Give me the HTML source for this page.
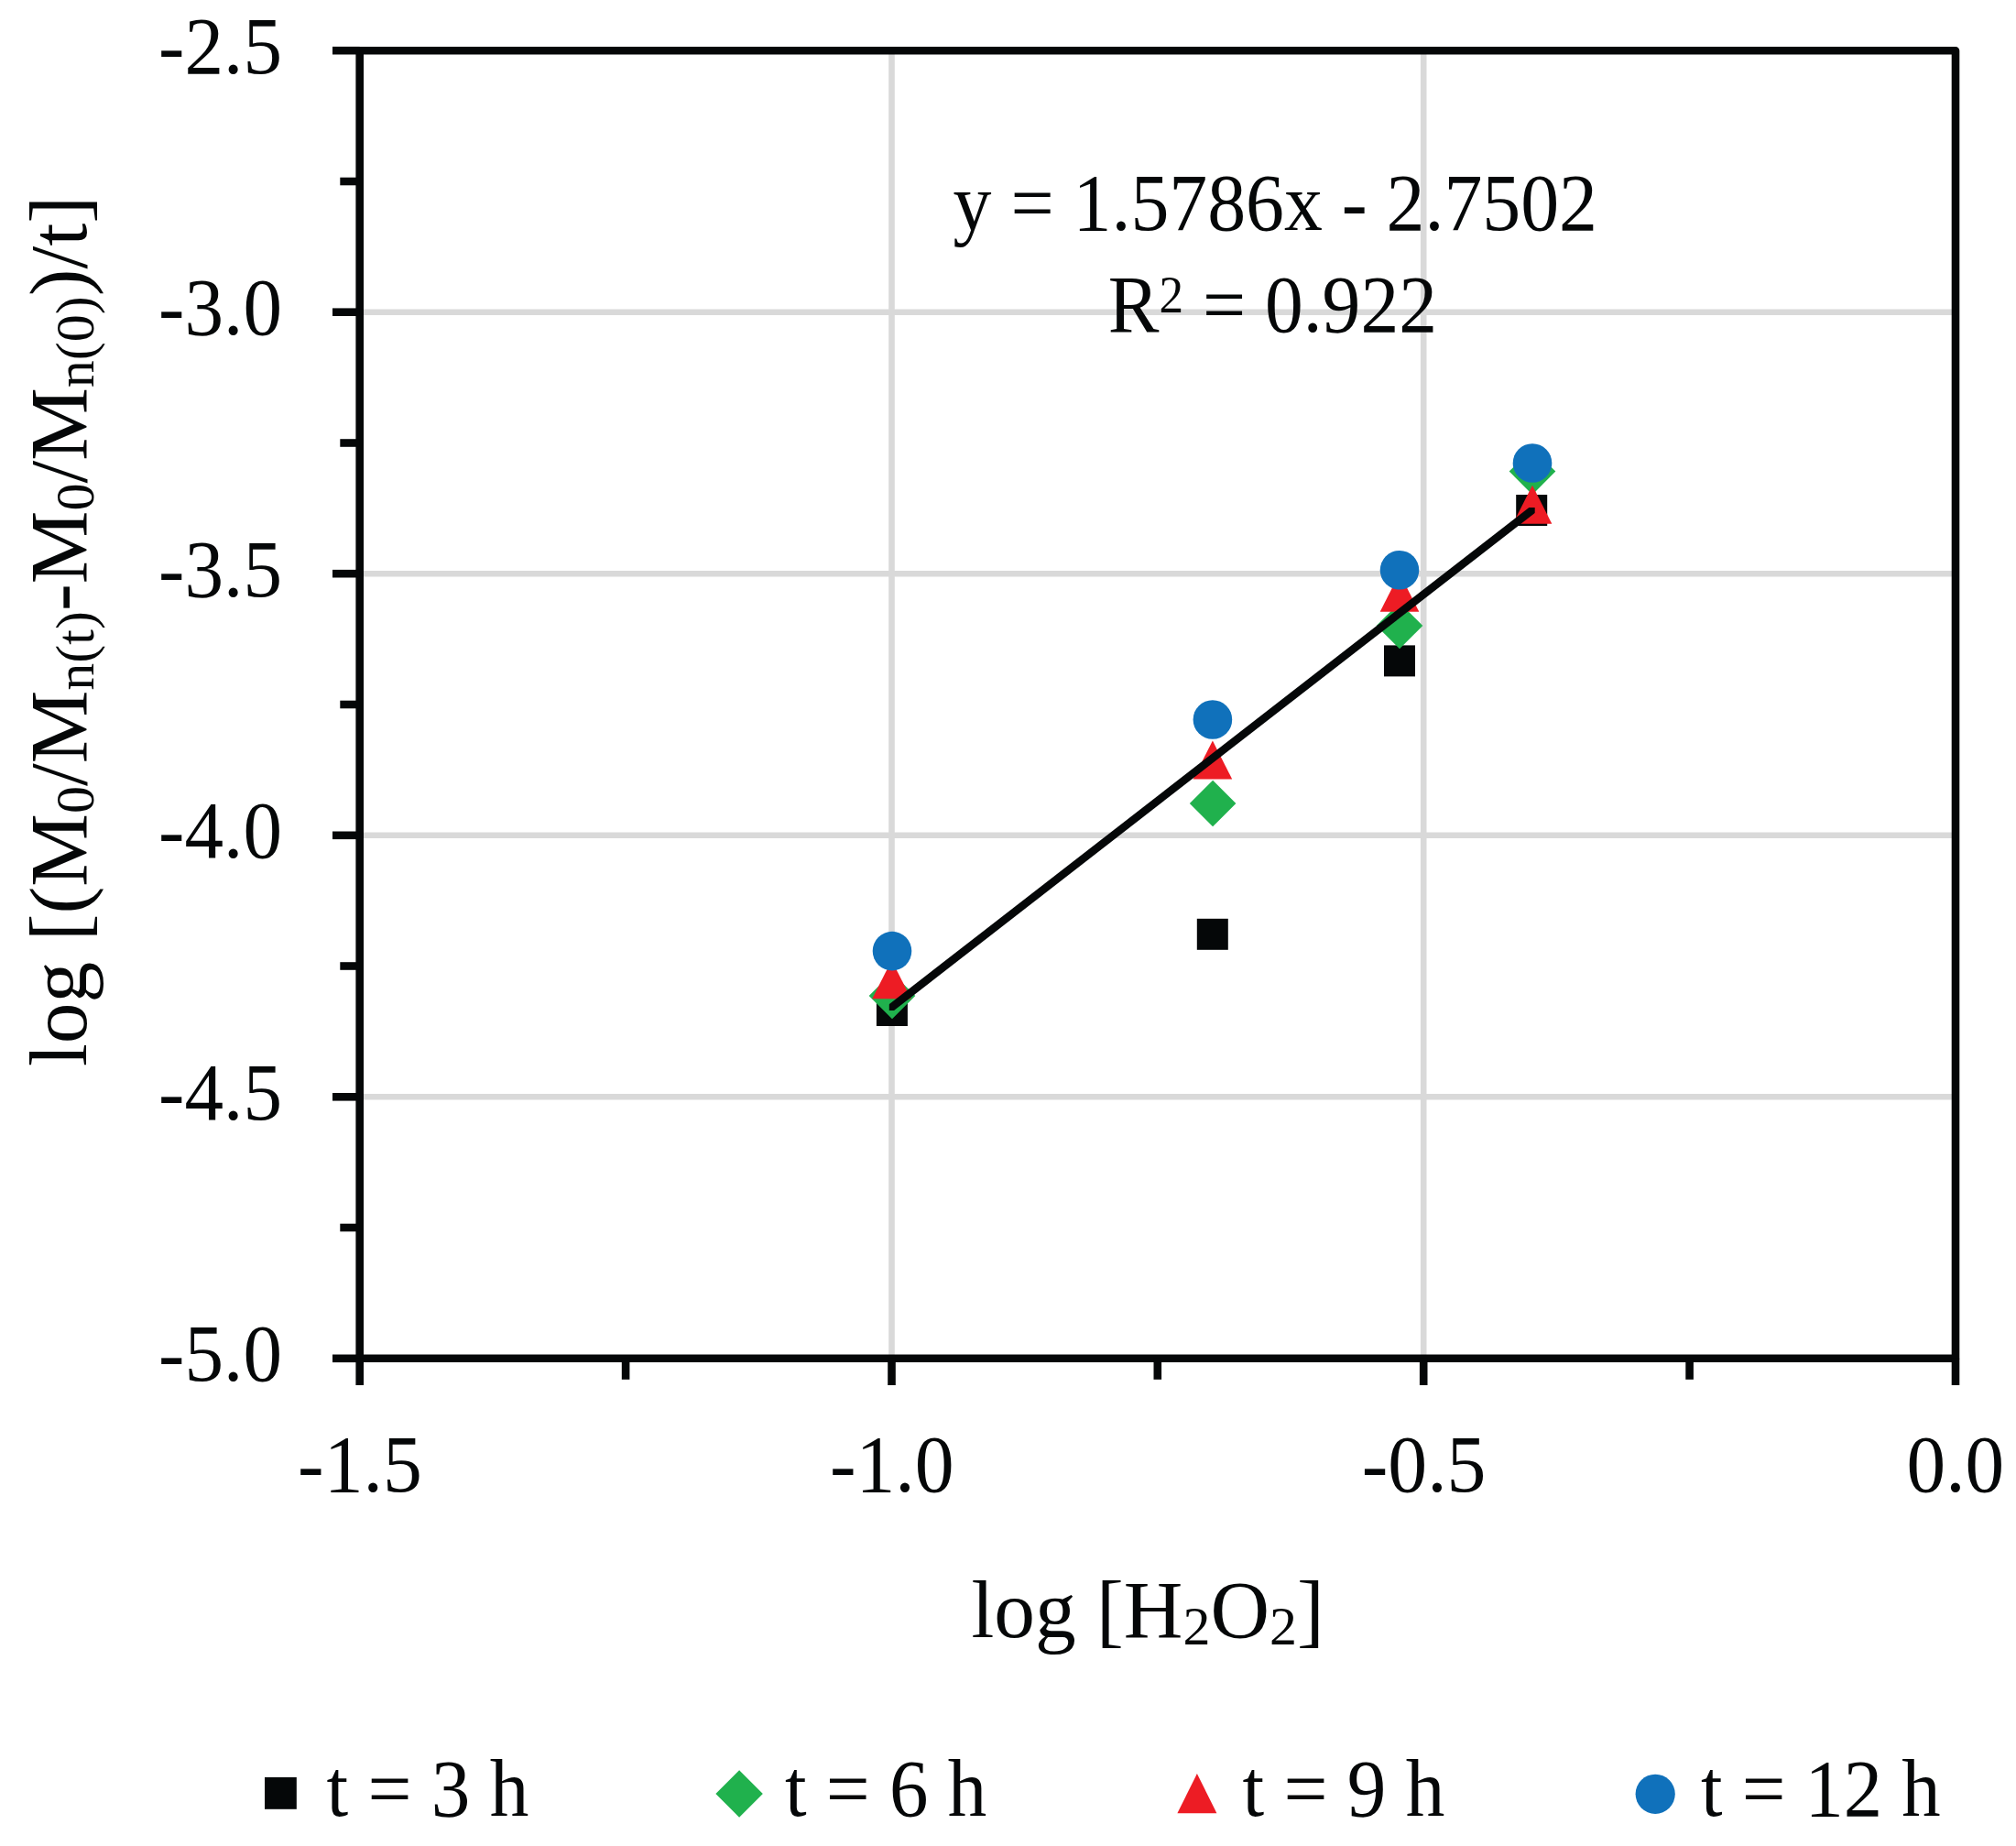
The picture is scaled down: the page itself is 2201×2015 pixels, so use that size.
<!DOCTYPE html>
<html lang="en"><head><meta charset="utf-8"><title>log rate vs log [H2O2]</title>
<style>html,body{margin:0;padding:0;background:#fff;overflow:hidden}svg{display:block}text{font-family:"Liberation Serif",serif;fill:#050708}</style></head><body>
<svg width="2201" height="2015" viewBox="0 0 2201 2015">
<rect width="2201" height="2015" fill="#fff"/>
<g stroke="#D9D9D9" stroke-width="6.6" fill="none">
<line x1="973.5" y1="55.2" x2="973.5" y2="1482.8"/>
<line x1="1554.2" y1="55.2" x2="1554.2" y2="1482.8"/>
<line x1="392.7" y1="340.7" x2="2135.0" y2="340.7"/>
<line x1="392.7" y1="626.2" x2="2135.0" y2="626.2"/>
<line x1="392.7" y1="911.8" x2="2135.0" y2="911.8"/>
<line x1="392.7" y1="1197.3" x2="2135.0" y2="1197.3"/>
</g>
<g stroke="#050708" stroke-width="8.6" fill="none">
<rect x="392.7" y="55.2" width="1742.3" height="1427.6" stroke-linejoin="round"/>
<line x1="363" y1="55.2" x2="392.7" y2="55.2"/>
<line x1="363" y1="340.7" x2="392.7" y2="340.7"/>
<line x1="363" y1="626.2" x2="392.7" y2="626.2"/>
<line x1="363" y1="911.8" x2="392.7" y2="911.8"/>
<line x1="363" y1="1197.3" x2="392.7" y2="1197.3"/>
<line x1="363" y1="1482.8" x2="392.7" y2="1482.8"/>
<line x1="371.3" y1="198.0" x2="392.7" y2="198.0"/>
<line x1="371.3" y1="483.5" x2="392.7" y2="483.5"/>
<line x1="371.3" y1="769.0" x2="392.7" y2="769.0"/>
<line x1="371.3" y1="1054.5" x2="392.7" y2="1054.5"/>
<line x1="371.3" y1="1340.0" x2="392.7" y2="1340.0"/>
<line x1="392.7" y1="1482.8" x2="392.7" y2="1512"/>
<line x1="973.5" y1="1482.8" x2="973.5" y2="1512"/>
<line x1="1554.2" y1="1482.8" x2="1554.2" y2="1512"/>
<line x1="2135.0" y1="1482.8" x2="2135.0" y2="1512"/>
<line x1="683.1" y1="1482.8" x2="683.1" y2="1505.8"/>
<line x1="1263.8" y1="1482.8" x2="1263.8" y2="1505.8"/>
<line x1="1844.6" y1="1482.8" x2="1844.6" y2="1505.8"/>
</g>
<g fill="#050708">
<rect x="956.9" y="1086.0" width="34" height="34"/>
<rect x="1306.8" y="1002.8" width="34" height="34"/>
<rect x="1511.0" y="704.4" width="34" height="34"/>
<rect x="1655.2" y="540.0" width="34" height="34"/>
</g><g fill="#20B14D">
<path d="M974.0 1061.7l25.3 25.3l-25.3 25.3l-25.3 -25.3z"/>
<path d="M1324.1 851.7l25.3 25.3l-25.3 25.3l-25.3 -25.3z"/>
<path d="M1528.0 657.7l25.3 25.3l-25.3 25.3l-25.3 -25.3z"/>
<path d="M1673.0 489.3l25.3 25.3l-25.3 25.3l-25.3 -25.3z"/>
</g><g fill="#ED1C24">
<path d="M973.5 1048.2l21.3 42h-42.6z"/>
<path d="M1323.9 808.5l21.3 42h-42.6z"/>
<path d="M1528.0 625.8l21.3 42h-42.6z"/>
<path d="M1673.0 529.7l21.3 42h-42.6z"/>
</g><g fill="#1071BB">
<circle cx="974.0" cy="1038.1" r="21.3"/>
<circle cx="1323.9" cy="785.5" r="21.3"/>
<circle cx="1528.0" cy="622.3" r="21.3"/>
<circle cx="1673.0" cy="505.5" r="21.3"/>
</g>
<clipPath id="tc"><rect x="970.8" y="554.1" width="704.9" height="548.8"/></clipPath>
<line x1="964.0" y1="1106.9" x2="1682.3" y2="549.4" stroke="#050708" stroke-width="8.6" clip-path="url(#tc)"/>
<g font-size="88">
<text transform="translate(173.11,79.7) scale(0.9682,1)">-2.5</text>
<text transform="translate(173.11,365.2) scale(0.9683,1)">-3.0</text>
<text transform="translate(173.11,650.7) scale(0.9682,1)">-3.5</text>
<text transform="translate(173.11,936.3) scale(0.9683,1)">-4.0</text>
<text transform="translate(173.11,1221.8) scale(0.9682,1)">-4.5</text>
<text transform="translate(173.11,1507.3) scale(0.9683,1)">-5.0</text>
<text transform="translate(325.08,1628.4) scale(0.9745,1)">-1.5</text>
<text transform="translate(905.91,1628.4) scale(0.9745,1)">-1.0</text>
<text transform="translate(1486.75,1628.4) scale(0.9743,1)">-0.5</text>
<text transform="translate(2081.59,1628.4) scale(0.9693,1)">0.0</text>
<text transform="translate(1040.56,251.3) scale(0.9520,1)">y = 1.5786x - 2.7502</text>
<text transform="translate(1209.64,361.9) scale(0.9499,1)">R<tspan font-size="56" dy="-21.2">2</tspan><tspan dy="21.2"> = 0.922</tspan></text>
<text transform="translate(1060.47,1786.6) scale(1.0162,1)">log [H<tspan font-size="59" dy="8">2</tspan><tspan dy="-8">O</tspan><tspan font-size="59" dy="8">2</tspan><tspan dy="-8">]</tspan></text>
<text transform="translate(356.52,1982.4) scale(0.9681,1)">t = 3 h</text>
<text transform="translate(857.03,1982.4) scale(0.9655,1)">t = 6 h</text>
<text transform="translate(1356.52,1982.4) scale(0.9681,1)">t = 9 h</text>
<text transform="translate(1857.03,1982.4) scale(0.9615,1)">t = 12 h</text>
<text transform="translate(93.5,1164.03) rotate(-90) scale(1.0171,1)">log [(M<tspan font-size="59" dy="8">0</tspan><tspan dy="-8">/M</tspan><tspan font-size="59" dy="8">n(t)</tspan><tspan dy="-8">-M</tspan><tspan font-size="59" dy="8">0</tspan><tspan dy="-8">/M</tspan><tspan font-size="59" dy="8">n(0)</tspan><tspan dy="-8">)/t]</tspan></text>
</g>
<rect x="289" y="1940" width="34.8" height="34.8" fill="#050708"/>
<path d="M807.1 1932.3l25.7 25.7l-25.7 25.7l-25.7 -25.7z" fill="#20B14D"/>
<path d="M1306.9 1936l21.5 43.3h-43z" fill="#ED1C24"/>
<circle cx="1807.2" cy="1958.3" r="21.6" fill="#1071BB"/>
</svg></body></html>
